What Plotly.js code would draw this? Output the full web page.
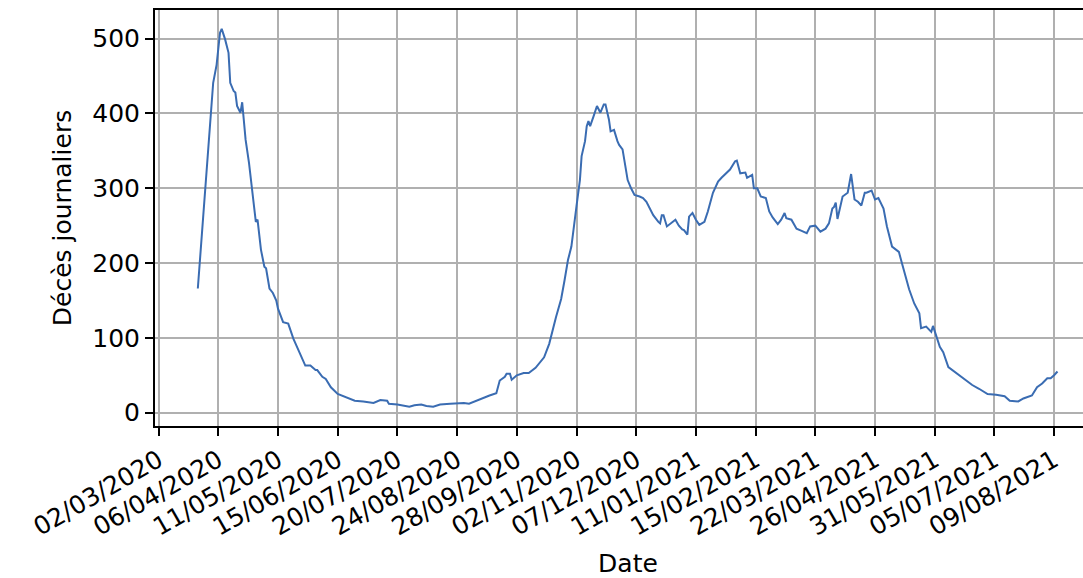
<!DOCTYPE html>
<html><head><meta charset="utf-8">
<script src="https://cdn.plot.ly/plotly-3.0.1.min.js"></script>
<style>html,body{margin:0;padding:0;overflow:hidden;background:#fff}#wrap{width:1083px;height:578px;overflow:hidden}#chart{width:1101px;height:578px}</style>
</head><body><div id="wrap"><div id="chart"></div></div>
<script>
const dates = [
'2020-03-25','2020-03-29','2020-04-01','2020-04-03','2020-04-05','2020-04-07','2020-04-08','2020-04-10','2020-04-12','2020-04-13',
'2020-04-15','2020-04-16','2020-04-17','2020-04-19','2020-04-20','2020-04-22','2020-04-24','2020-04-26','2020-04-28','2020-04-29',
'2020-05-01','2020-05-03','2020-05-04','2020-05-06','2020-05-08','2020-05-10','2020-05-11','2020-05-14','2020-05-17','2020-05-20',
'2020-05-23','2020-05-27','2020-05-30','2020-06-02','2020-06-03','2020-06-06','2020-06-08','2020-06-11','2020-06-15','2020-06-20',
'2020-06-25','2020-06-30','2020-07-06','2020-07-10','2020-07-14','2020-07-15','2020-07-20','2020-07-27','2020-07-30','2020-08-03',
'2020-08-06','2020-08-10','2020-08-14','2020-08-20','2020-08-28','2020-08-31','2020-09-04','2020-09-08','2020-09-12','2020-09-16',
'2020-09-18','2020-09-21','2020-09-22','2020-09-24','2020-09-25','2020-09-28','2020-10-02','2020-10-05','2020-10-09','2020-10-14',
'2020-10-17','2020-10-21','2020-10-24','2020-10-26','2020-10-28','2020-10-30','2020-10-31','2020-11-02','2020-11-04','2020-11-05',
'2020-11-07','2020-11-08','2020-11-09','2020-11-10','2020-11-12','2020-11-14','2020-11-16','2020-11-18','2020-11-19','2020-11-21',
'2020-11-22','2020-11-24','2020-11-26','2020-11-27','2020-11-29','2020-12-01','2020-12-02','2020-12-04','2020-12-06','2020-12-09',
'2020-12-11','2020-12-13','2020-12-15','2020-12-17','2020-12-20','2020-12-21','2020-12-22','2020-12-23','2020-12-25','2020-12-27',
'2020-12-30','2021-01-01','2021-01-03','2021-01-04','2021-01-06','2021-01-07','2021-01-09','2021-01-11','2021-01-13','2021-01-16',
'2021-01-18','2021-01-21','2021-01-24','2021-01-26','2021-01-28','2021-01-31','2021-02-03','2021-02-04','2021-02-06','2021-02-09',
'2021-02-10','2021-02-13','2021-02-14','2021-02-16','2021-02-18','2021-02-21','2021-02-23','2021-02-25','2021-02-28','2021-03-02',
'2021-03-04','2021-03-05','2021-03-08','2021-03-11','2021-03-14','2021-03-17','2021-03-19','2021-03-22','2021-03-25','2021-03-28',
'2021-03-30','2021-04-01','2021-04-02','2021-04-03','2021-04-04','2021-04-07','2021-04-10','2021-04-12','2021-04-14','2021-04-16',
'2021-04-18','2021-04-20','2021-04-21','2021-04-24','2021-04-26','2021-04-28','2021-05-01','2021-05-03','2021-05-06','2021-05-10',
'2021-05-12','2021-05-16','2021-05-19','2021-05-22','2021-05-23','2021-05-26','2021-05-29','2021-05-30','2021-06-03','2021-06-05',
'2021-06-08','2021-06-12','2021-06-17','2021-06-22','2021-06-26','2021-07-01','2021-07-06','2021-07-11','2021-07-14','2021-07-19',
'2021-07-22','2021-07-27','2021-07-30','2021-08-02','2021-08-05','2021-08-07','2021-08-09','2021-08-11'
];
const deaths = [
166,289,387,441,465,508,513,499,481,441,
430,428,410,401,415,365,334,298,255,258,
218,195,193,166,160,150,139,121,119,99,
83,63,63,57,57,48,45,34,25,21,
16,15,13,17,16,12,11,8,10,11,
9,8,11,12,13,12,16,19,23,26,
43,48,52,52,44,50,53,53,60,74,
92,128,152,177,204,222,238,276,311,343,
363,383,390,383,396,410,401,412,412,392,
376,378,363,358,352,320,311,300,291,289,
287,282,273,264,255,253,264,264,249,253,
258,250,245,244,238,262,267,258,251,255,
269,294,309,314,318,325,336,337,320,321,
314,318,300,300,289,287,269,261,252,258,
267,260,258,246,243,240,249,250,242,246,
253,273,275,281,259,289,294,319,285,282,
277,294,294,297,285,287,273,249,222,215,
198,165,146,133,113,115,108,116,88,81,
61,54,46,37,32,25,24,22,16,15,
19,23,34,39,46,46,50,55
];
const tickDates = ['2020-03-02','2020-04-06','2020-05-11','2020-06-15','2020-07-20','2020-08-24','2020-09-28','2020-11-02',
'2020-12-07','2021-01-11','2021-02-15','2021-03-22','2021-04-26','2021-05-31','2021-07-05','2021-08-09'];
const tickLabels = ['02/03/2020','06/04/2020','11/05/2020','15/06/2020','20/07/2020','24/08/2020','28/09/2020','02/11/2020',
'07/12/2020','11/01/2021','15/02/2021','22/03/2021','26/04/2021','31/05/2021','05/07/2021','09/08/2021'];
const yTicks = [0,100,200,300,400,500];

const font = {family:'DejaVu Sans', size:25, color:'#000'};
Plotly.newPlot('chart', [{
  x: dates, y: deaths, type:'scatter', mode:'lines',
  line:{color:'#3a6cb2', width:2}, hoverinfo:'skip'
}], {
  width:1101, height:578,
  margin:{l:155, r:0, t:10, b:152},
  paper_bgcolor:'#fff', plot_bgcolor:'#fff',
  font: font, showlegend:false,
  xaxis:{
    type:'date', range:['2020-02-28 21:20','2021-09-05 12:00'],
    tickmode:'array', tickvals:tickDates, ticktext:tickLabels, tickangle:-30,
    ticks:'outside', ticklen:8, tickwidth:2, tickcolor:'#000',
    showgrid:true, gridcolor:'#b0b0b0', gridwidth:2,
    showline:true, linecolor:'#000', linewidth:2, mirror:true,
    tickfont:font, zeroline:false,
    title:{text:'Date', font:font, standoff:22}
  },
  yaxis:{
    range:[-17.8, 538.3], tickmode:'array', tickvals:yTicks,
    ticks:'outside', ticklen:8, tickwidth:2, tickcolor:'#000',
    showgrid:true, gridcolor:'#b0b0b0', gridwidth:2,
    showline:true, linecolor:'#000', linewidth:2, mirror:true,
    tickfont:font, zeroline:false,
    title:{text:'Décès journaliers', font:font, standoff:14}
  }
}, {staticPlot:true});
</script>
</body></html>
